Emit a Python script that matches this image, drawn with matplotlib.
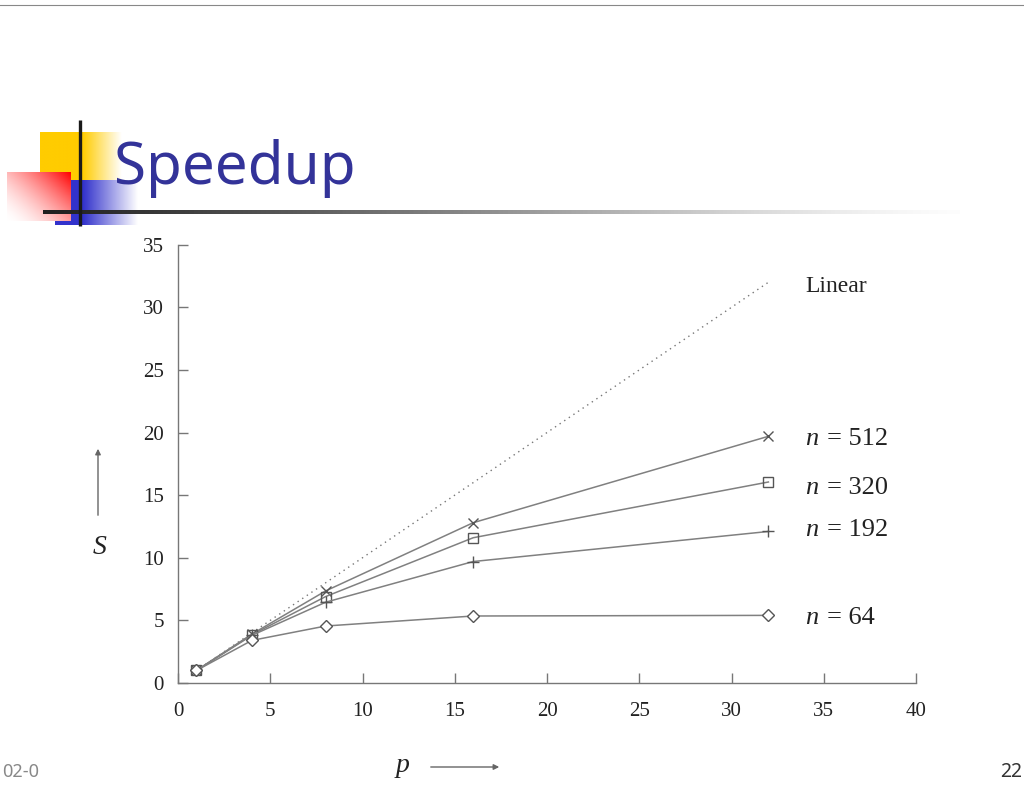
import numpy as np
import matplotlib
matplotlib.use("Agg")
import matplotlib.pyplot as plt

# ---- data ----
p_values = [1, 4, 8, 16, 32]
speedup_n64 = [1.0, 3.4, 4.55, 5.35, 5.4]
speedup_n192 = [1.0, 3.8, 6.45, 9.7, 12.1]
speedup_n320 = [1.0, 3.85, 6.9, 11.6, 16.05]
speedup_n512 = [1.0, 3.9, 7.35, 12.8, 19.7]
linear_p = [1, 32]
series_labels = ["n = 512", "n = 320", "n = 192", "n = 64"]
x_ticks = [0, 5, 10, 15, 20, 25, 30, 35, 40]
y_ticks = [0, 5, 10, 15, 20, 25, 30, 35]

W, H = 1024, 785
fig = plt.figure(figsize=(W / 100, H / 100), dpi=100)
fig.patch.set_facecolor("white")

# ---- background / slide decorations (pixel coordinates) ----
bg = fig.add_axes([0, 0, 1, 1])
bg.set_xlim(0, W)
bg.set_ylim(H, 0)
bg.axis("off")

def grad_rect(ax, x0, x1, y0, y1, rgb, frac_fn, nx=160, ny=80, z=1):
    xs = np.linspace(0, 1, nx)
    ys = np.linspace(0, 1, ny)
    X, Y = np.meshgrid(xs, ys)
    A = np.clip(frac_fn(X, Y), 0, 1)
    img = np.ones((ny, nx, 3))
    for c in range(3):
        img[..., c] = 1.0 - A * (1.0 - rgb[c])
    ax.imshow(img, extent=(x0, x1, y1, y0), origin="upper", aspect="auto",
              interpolation="bilinear", zorder=z)

# top thin line
bg.plot([0, W], [5, 5], color="#888888", lw=0.8, zorder=1)

# yellow square: solid left, fading right
grad_rect(bg, 40, 122, 132, 180, (1.0, 0.8, 0.0),
          lambda X, Y: np.where(X < 0.52, 1.0, 1 - (X - 0.52) / 0.48), z=2)
# blue square
grad_rect(bg, 55, 138, 180, 225, (0.2, 0.2, 0.8),
          lambda X, Y: np.where(X < 0.34, 1.0, 1 - (X - 0.34) / 0.66), z=3)
# red square, red at top-right fading to white at bottom-left
grad_rect(bg, 7, 71, 172, 221, (1.0, 0.0, 0.0),
          lambda X, Y: (X * 0.55 + (1 - Y) * 0.45) ** 1.6, z=4)

# horizontal gradient rule
nx = 400
strip = np.zeros((1, nx, 4))
t = np.linspace(0, 1, nx)
g = 0.12 + 0.8 * t
strip[0, :, 0] = strip[0, :, 1] = strip[0, :, 2] = g
strip[0, :, 3] = np.clip(1.0 - 0.9 * t ** 3, 0, 1)
bg.imshow(strip, extent=(43, 960, 214, 210), origin="upper", aspect="auto",
          interpolation="bilinear", zorder=5)
# vertical black line
bg.plot([80, 80], [120, 226], color="#1a1a1a", lw=2.4, zorder=6, solid_capstyle="butt")

# title
bg.text(114, 184, "Speedup", fontsize=42, color="#333399", family="Noto Sans",
        ha="left", va="baseline", zorder=7)

# footer
bg.text(2, 772, "02-0", fontsize=13, color="#888888", family="Noto Sans",
        ha="left", va="center")
bg.text(1022, 772, "22", fontsize=14, color="#333333", family="Noto Sans",
        ha="right", va="center")

# ---- chart axes ----
left, right = 178 / W, 916 / W
bottom, top = 1 - 683 / H, 1 - 244.7 / H
ax = fig.add_axes([left, bottom, right - left, top - bottom])
ax.patch.set_alpha(0)
ax.set_xlim(0, 40)
ax.set_ylim(0, 35)
for s in ["top", "right"]:
    ax.spines[s].set_visible(False)
for s in ["left", "bottom"]:
    ax.spines[s].set_color("#777777")
    ax.spines[s].set_linewidth(1.0)
ax.set_xticks(x_ticks)
ax.set_yticks(y_ticks)
ax.tick_params(direction="in", length=7, color="#777777", width=1.0,
               labelsize=15, labelcolor="#222222")
ax.tick_params(axis="x", pad=14)
ax.tick_params(axis="y", pad=10)
for lab in ax.get_xticklabels() + ax.get_yticklabels():
    lab.set_family("Liberation Serif")

lc = "#808080"
mc = "#555555"
ax.plot(linear_p, linear_p, linestyle=(0, (1, 3)), color="#777777", lw=1.0)
ax.plot(p_values, speedup_n512, color=lc, lw=1.1, marker="x", ms=7, mew=1.0,
        mfc="none", mec=mc)
ax.plot(p_values, speedup_n320, color=lc, lw=1.1, marker="s", ms=7, mew=1.0,
        mfc="none", mec=mc)
ax.plot(p_values, speedup_n192, color=lc, lw=1.1, marker="+", ms=9, mew=1.0,
        mfc="none", mec=mc)
ax.plot(p_values, speedup_n64, color=lc, lw=1.1, marker="D", ms=6, mew=1.0,
        mfc="white", mec=mc)

label_x = 34
ax.text(label_x, 31.7, "Linear", family="Liberation Serif", fontsize=17,
        color="#222222", va="center", ha="left")
label_y = [19.5, 15.6, 12.2, 5.2]
for lbl, yv in zip(series_labels, label_y):
    name, rest = lbl.split(" = ")
    ax.text(label_x, yv, name, fontsize=19, style="italic", color="#222222",
            va="center", ha="left", family="Liberation Serif")
    ax.text(label_x + 1.2, yv, "= " + rest, family="Liberation Serif",
            fontsize=19, color="#222222", va="center", ha="left")

# axis labels with arrows
bg.text(100, 548, "S", fontsize=20, style="italic", family="Liberation Serif",
        color="#222222", ha="center", va="center")
bg.annotate("", xy=(98, 446), xytext=(98, 518),
            arrowprops=dict(arrowstyle="-|>", color="#666666", lw=1.0,
                            mutation_scale=8))
bg.text(403, 766, "p", fontsize=20, style="italic", family="Liberation Serif",
        color="#222222", ha="center", va="center")
bg.annotate("", xy=(502, 767), xytext=(428, 767),
            arrowprops=dict(arrowstyle="-|>", color="#666666", lw=1.0,
                            mutation_scale=8))

fig.savefig("out.png", dpi=100, facecolor="white")
